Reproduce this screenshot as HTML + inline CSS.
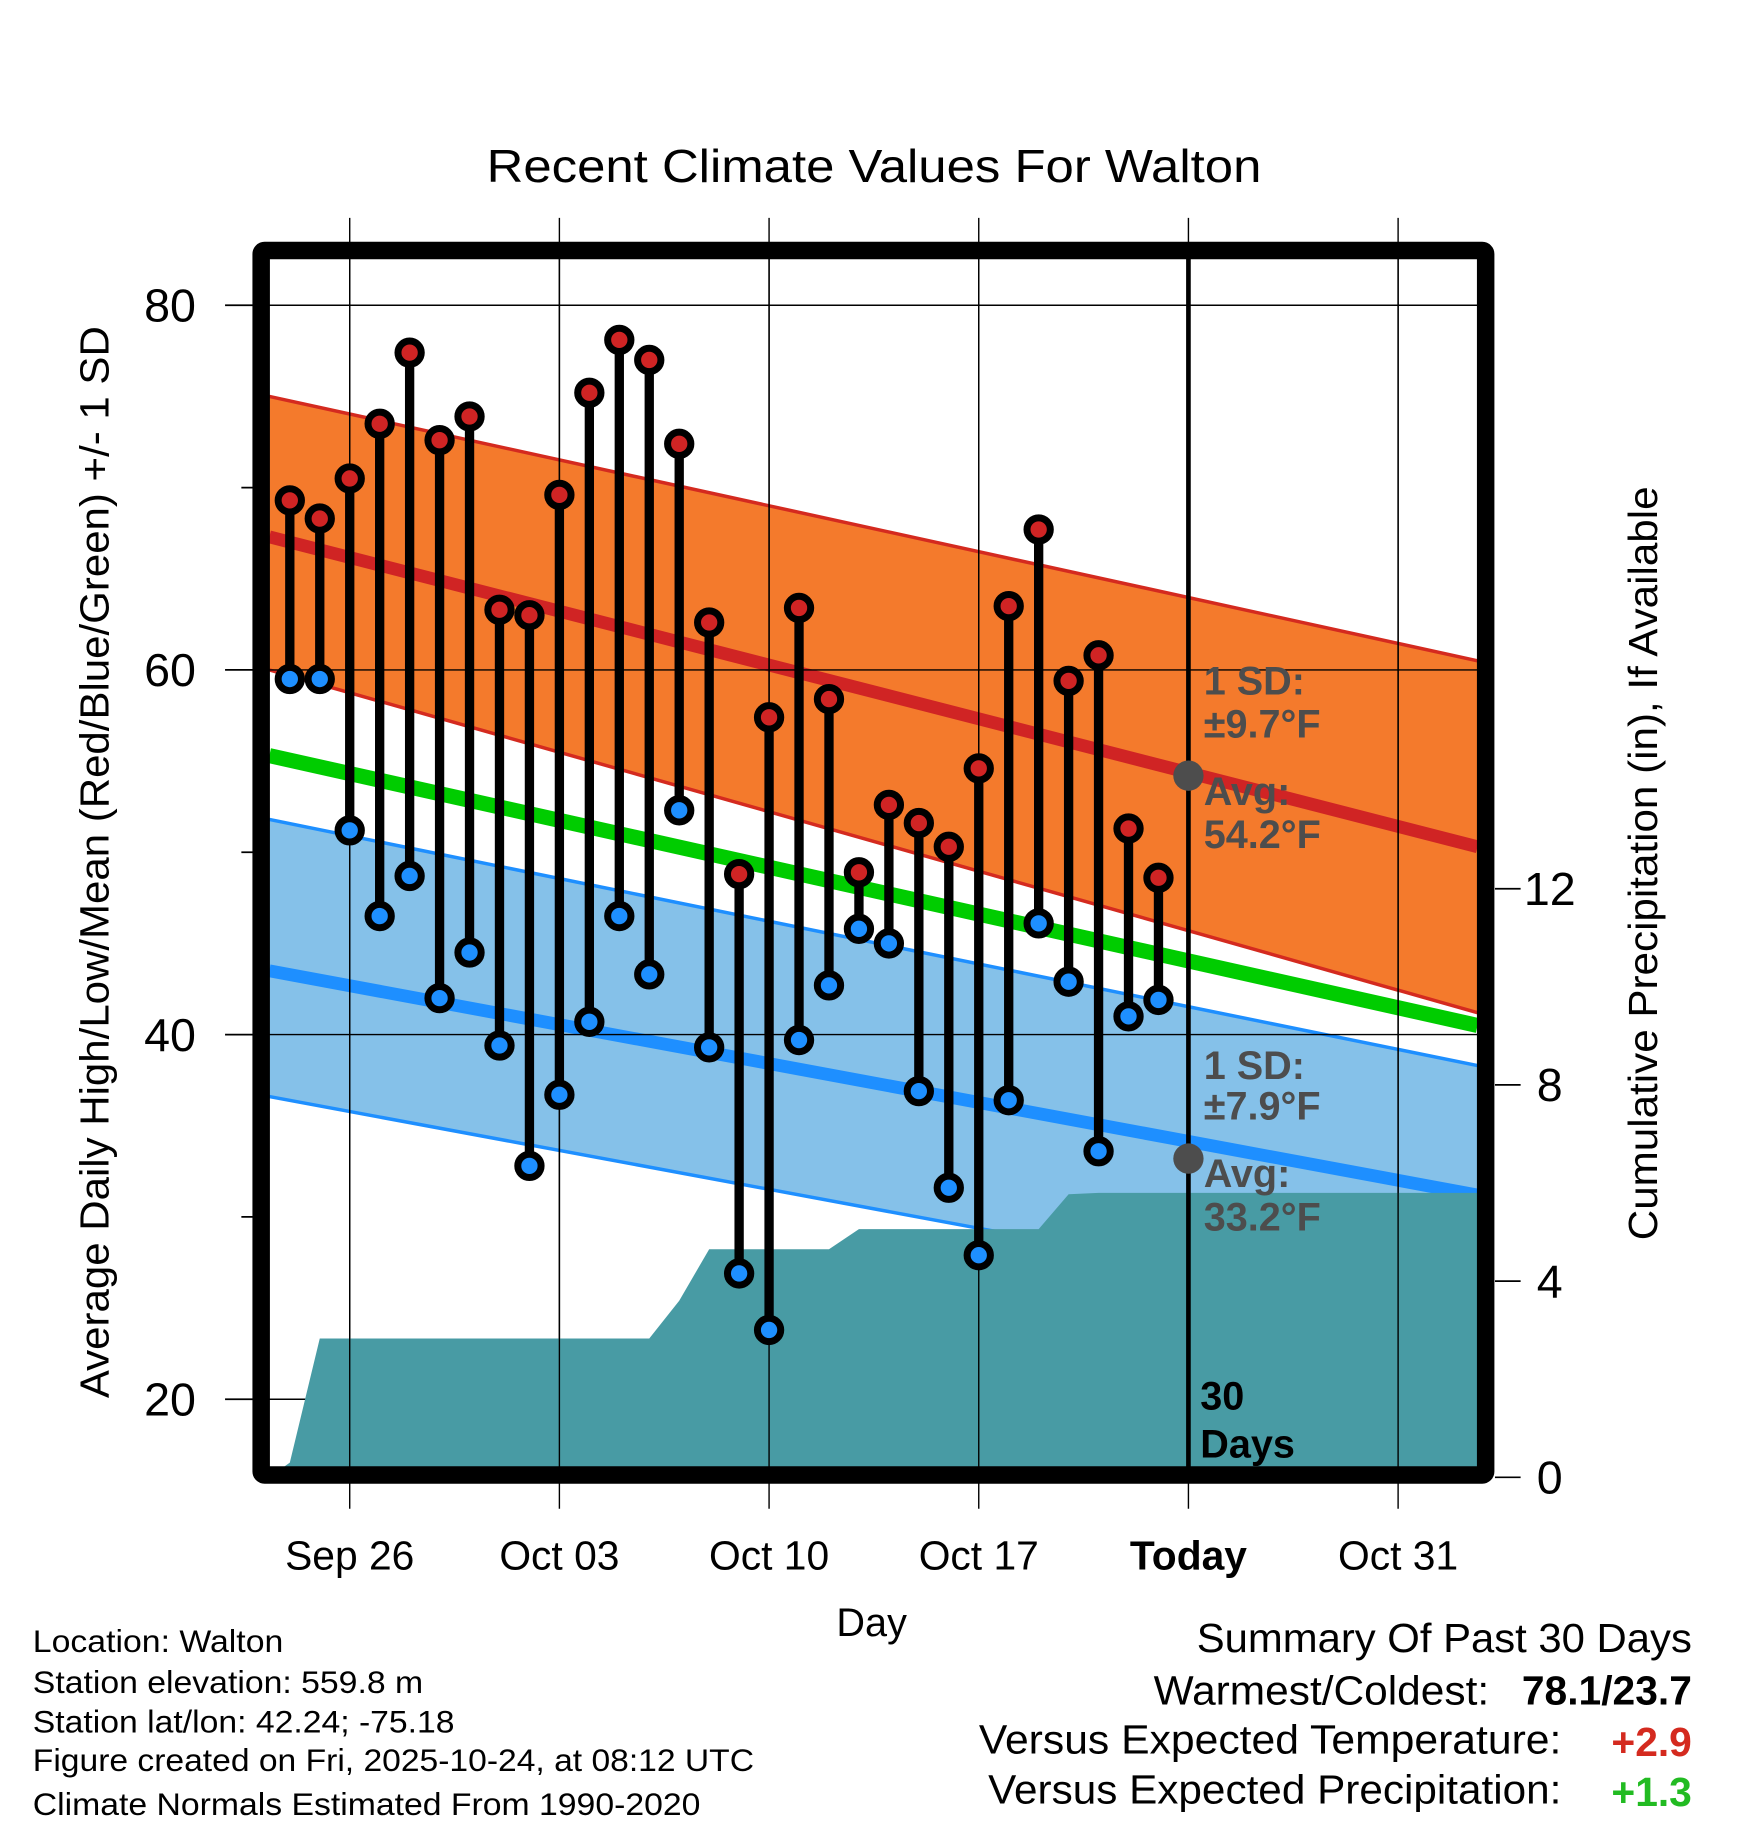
<!DOCTYPE html>
<html><head><meta charset="utf-8"><style>
html,body{margin:0;padding:0;background:#fff}
svg{display:block;font-family:"Liberation Sans",sans-serif}
</style></head><body>
<svg id="chart" width="1748" height="1828" viewBox="0 0 1500 1569" xmlns="http://www.w3.org/2000/svg">
<text x="750" y="156" font-size="40" text-anchor="middle" textLength="665" lengthAdjust="spacingAndGlyphs">Recent Climate Values For Walton</text>
<g id="plot"></g>
<text x="93" y="740" font-size="35" text-anchor="middle" textLength="920" lengthAdjust="spacingAndGlyphs" transform="rotate(-90 93 740)">Average Daily High/Low/Mean (Red/Blue/Green) +/- 1 SD</text>
<text x="1422" y="741" font-size="35" text-anchor="middle" textLength="647" lengthAdjust="spacingAndGlyphs" transform="rotate(-90 1422 741)">Cumulative Precipitation (in), If Available</text>
<text x="748" y="1404" font-size="34" text-anchor="middle">Day</text>
<g font-size="27">
<text x="28" y="1418" textLength="215" lengthAdjust="spacingAndGlyphs">Location: Walton</text>
<text x="28" y="1453" textLength="335" lengthAdjust="spacingAndGlyphs">Station elevation: 559.8 m</text>
<text x="28" y="1487" textLength="362" lengthAdjust="spacingAndGlyphs">Station lat/lon: 42.24; -75.18</text>
<text x="28" y="1520" textLength="619" lengthAdjust="spacingAndGlyphs">Figure created on Fri, 2025-10-24, at 08:12 UTC</text>
<text x="28" y="1558" textLength="573" lengthAdjust="spacingAndGlyphs">Climate Normals Estimated From 1990-2020</text>
</g>
<g font-size="35" text-anchor="end">
<text x="1452" y="1418" textLength="425" lengthAdjust="spacingAndGlyphs">Summary Of Past 30 Days</text>
<text x="1278" y="1463" textLength="288" lengthAdjust="spacingAndGlyphs">Warmest/Coldest:</text>
<text x="1452" y="1463" font-weight="bold">78.1/23.7</text>
<text x="1340" y="1505" textLength="500" lengthAdjust="spacingAndGlyphs">Versus Expected Temperature:</text>
<text x="1452" y="1507" font-weight="bold" fill="#d42a1f">+2.9</text>
<text x="1340" y="1548" textLength="492" lengthAdjust="spacingAndGlyphs">Versus Expected Precipitation:</text>
<text x="1452" y="1550" font-weight="bold" fill="#22bb22">+1.3</text>
</g>
</svg>
<script>
const days=['Sep24','Sep25','Sep26','Sep27','Sep28','Sep29','Sep30','Oct01','Oct02','Oct03','Oct04','Oct05','Oct06','Oct07','Oct08','Oct09','Oct10','Oct11','Oct12','Oct13','Oct14','Oct15','Oct16','Oct17','Oct18','Oct19','Oct20','Oct21','Oct22','Oct23'];
const highs=[69.3,68.3,70.5,73.5,77.4,72.6,73.9,63.3,63.0,69.6,75.2,78.1,77.0,72.4,62.6,48.8,57.4,63.4,58.4,48.9,52.6,51.6,50.3,54.6,63.5,67.7,59.4,60.8,51.3,48.6];
const lows=[59.5,59.5,51.2,46.5,48.7,42.0,44.5,39.4,32.8,36.7,40.7,46.5,43.3,52.3,39.3,26.9,23.8,39.7,42.7,45.8,45.0,36.9,31.6,27.9,36.4,46.1,42.9,33.6,41.0,41.9];
const precip=[0.3,2.83,2.83,2.83,2.83,2.83,2.83,2.83,2.83,2.83,2.83,2.83,2.83,3.6,4.65,4.65,4.65,4.65,4.65,5.06,5.06,5.06,5.06,5.06,5.06,5.06,5.77,5.8,5.8,5.8];
const normHighStartEnd=[67.3,50.3];
const normHighUpper=[75.0,60.5];
const normHighLower=[60.0,41.2];
const normMean=[55.3,40.5];
const normLowStartEnd=[43.5,31.2];
const normLowUpper=[51.8,38.3];
const normLowLower=[36.6,24.3];
const yTicks=[20,40,60,80];
const yMinor=[30,50,70];
const precipTicks=[0,4,8,12];
const xTickLabels=['Sep 26','Oct 03','Oct 10','Oct 17','Today','Oct 31'];
const xTickDays=[2,9,16,23,30,37];

const NS='http://www.w3.org/2000/svg';
const L=231,R=1268,T=222,B=1260;
const dStart=-0.68,dEnd=39.65;
const x=d=>300+(d-2)*25.71;
const y=v=>262+(80-v)*15.65;
const yp=p=>1268-p*42.1;
const g=document.getElementById('plot');
function el(t,a,parent){const e=document.createElementNS(NS,t);for(const k in a)e.setAttribute(k,a[k]);(parent||g).appendChild(e);return e;}
el('defs',{}).innerHTML='<clipPath id="cp"><rect x="231" y="222" width="1037" height="1038"/></clipPath>';
const cg=el('g',{'clip-path':'url(#cp)'});
(function(){
  const P=cg;
  function e2(t,a){return el(t,a,P);}
  let p=e2('path',{d:`M${L},${y(normHighUpper[0])} L${R},${y(normHighUpper[1])} L${R},${y(normHighLower[1])} L${L},${y(normHighLower[0])} Z`,fill:'#f47a2c'});
  
  
  p=e2('path',{d:`M${L},${y(normLowUpper[0])} L${R},${y(normLowUpper[1])} L${R},${y(normLowLower[1])} L${L},${y(normLowLower[0])} Z`,fill:'#85c1e9'});
  
  
  const lines=[[normHighUpper,'#d42a1f',3,'high-band-upper'],[normHighLower,'#d42a1f',3,'high-band-lower'],[normLowUpper,'#1e8fff',3,'low-band-upper'],[normLowLower,'#1e8fff',3,'low-band-lower'],[normHighStartEnd,'#d02424',11,'normal-high-line'],[normMean,'#00cc00',13,'normal-mean-line'],[normLowStartEnd,'#1e8fff',11,'normal-low-line']];
  lines.forEach(l=>{const e=e2('line',{x1:L,y1:y(l[0][0]),x2:R,y2:y(l[0][1]),stroke:l[1],'stroke-width':l[2]});
    
    });
  yTicks.forEach(v=>{const e=e2('line',{x1:L,y1:y(v),x2:R,y2:y(v),stroke:'#000','stroke-width':1.2});
    
    });
  xTickDays.forEach(d=>{const e=e2('line',{x1:x(d),y1:T,x2:x(d),y2:B,stroke:'#000','stroke-width':1.2});
    
    });
  let d=`M${L},${B} L${L},${yp(0)}`;
  precip.forEach((v,i)=>{d+=` L${x(i)},${yp(v)}`;});
  d+=` L${R},${yp(precip[precip.length-1])} L${R},${B} Z`;
  p=e2('path',{d:d,fill:'#489ba4'});
  
  
})();
yTicks.forEach(v=>{const e=el('line',{x1:193,y1:y(v),x2:L,y2:y(v),stroke:'#000','stroke-width':1.5});
  
  
  const t=el('text',{x:168,y:y(v)+14,'font-size':40,'text-anchor':'end'});t.textContent=v;
  
  });
yMinor.forEach(v=>{const e=el('line',{x1:207,y1:y(v),x2:L,y2:y(v),stroke:'#000','stroke-width':1.5});
  
  });
xTickDays.forEach((d,i)=>{const e=el('line',{x1:x(d),y1:187,x2:x(d),y2:1295,stroke:'#000','stroke-width':1.2});
  
  
  const t=el('text',{x:x(d),y:1347,'font-size':35,'text-anchor':'middle','font-weight':xTickLabels[i]==='Today'?'bold':'normal'});t.textContent=xTickLabels[i];
  
  });
precipTicks.forEach(v=>{const e=el('line',{x1:1283,y1:yp(v),x2:1305,y2:yp(v),stroke:'#000','stroke-width':1.5});
  
  
  const t=el('text',{x:1330,y:yp(v)+14,'font-size':40,'text-anchor':'middle'});t.textContent=v;
  
  });
let tl=el('line',{x1:x(30),y1:T,x2:x(30),y2:B,stroke:'#000','stroke-width':4});


highs.forEach((h,i)=>{
  const s=el('line',{x1:x(i),y1:y(h),x2:x(i),y2:y(lows[i]),stroke:'#000','stroke-width':8});
  
  
});
highs.forEach((h,i)=>{
  const a=el('circle',{cx:x(i),cy:y(h),r:10,fill:'#d02424',stroke:'#000','stroke-width':6});
  
  
  const b=el('circle',{cx:x(i),cy:y(lows[i]),r:10,fill:'#1e8fff',stroke:'#000','stroke-width':6});
  
  
});
[[54.2,'today-high-avg-dot'],[33.2,'today-low-avg-dot']].forEach(a=>{const c=el('circle',{cx:x(30),cy:y(a[0]),r:13,fill:'#4d4d4d'});
  
  });
const ann=[['1 SD:',596],['±9.7°F',633],['Avg:',691],['54.2°F',728],['1 SD:',926],['±7.9°F',961],['Avg:',1019],['33.2°F',1056]];
ann.forEach(a=>{const t=el('text',{x:1033,y:a[1],'font-size':34,'font-weight':'bold',fill:'#4d4d4d'});t.textContent=a[0];
  
  });
[['30',1210],['Days',1251]].forEach(a=>{const t=el('text',{x:1030,y:a[1],'font-size':34,'font-weight':'bold',fill:'#000'});t.textContent=a[0];
  
  });
let fr=el('rect',{x:224,y:215,width:1051,height:1051,fill:'none',stroke:'#000','stroke-width':15,rx:3});


</script>
</body></html>
